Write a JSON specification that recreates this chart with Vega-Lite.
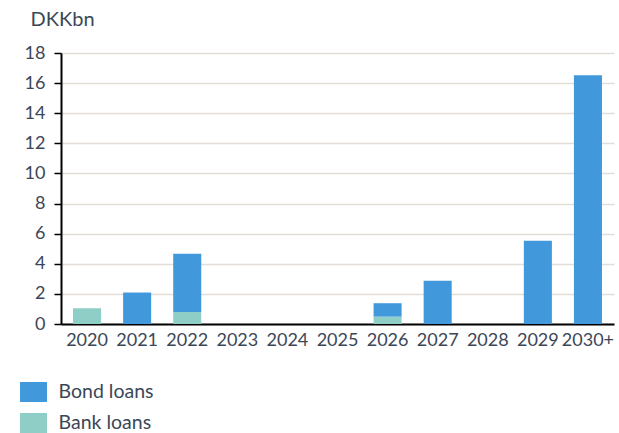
{
  "$schema": "https://vega.github.io/schema/vega-lite/v6.json",
  "width": 553,
  "height": 271,
  "autosize": {"type": "none"},
  "padding": {"left": 61, "top": 53, "right": 5, "bottom": 109},
  "background": "white",
  "config": {
    "view": {"stroke": null},
    "font": "Lato",
    "text": {"font": "Lato"}
  },
  "data": {
    "values": [
      {"year": "2020", "type": "Bank loans", "value": 1.04},
      {"year": "2021", "type": "Bond loans", "value": 2.09},
      {"year": "2022", "type": "Bank loans", "value": 0.8},
      {"year": "2022", "type": "Bond loans", "value": 3.87},
      {"year": "2023", "type": "Bond loans", "value": 0},
      {"year": "2024", "type": "Bond loans", "value": 0},
      {"year": "2025", "type": "Bond loans", "value": 0},
      {"year": "2026", "type": "Bank loans", "value": 0.49},
      {"year": "2026", "type": "Bond loans", "value": 0.89},
      {"year": "2027", "type": "Bond loans", "value": 2.87},
      {"year": "2028", "type": "Bond loans", "value": 0},
      {"year": "2029", "type": "Bond loans", "value": 5.53},
      {"year": "2030+", "type": "Bond loans", "value": 16.53}
    ]
  },
  "mark": {"type": "bar"},
  "encoding": {
    "x": {
      "field": "year",
      "type": "nominal",
      "sort": null,
      "scale": {"paddingInner": 0.44, "paddingOuter": 0.24},
      "axis": {
        "title": null,
        "labelAngle": 0,
        "labelFontSize": 18,
        "labelColor": "#3B4757",
        "labelOverlap": false,
        "labelPadding": 7,
        "ticks": false,
        "domainColor": "#000000",
        "domainWidth": 2,
        "grid": false
      }
    },
    "y": {
      "field": "value",
      "type": "quantitative",
      "stack": "zero",
      "scale": {"domain": [0, 18], "nice": false},
      "axis": {
        "values": [0, 2, 4, 6, 8, 10, 12, 14, 16, 18],
        "title": "DKKbn",
        "titleAngle": 0,
        "titleAlign": "left",
        "titleBaseline": "alphabetic",
        "titleX": -31,
        "titleY": -28,
        "titleFontSize": 20,
        "titleFontWeight": "normal",
        "titleColor": "#3B4757",
        "labelFontSize": 18,
        "labelColor": "#3B4757",
        "labelPadding": 9,
        "tickColor": "#000000",
        "tickSize": 7,
        "tickWidth": 1.5,
        "domainColor": "#000000",
        "domainWidth": 2,
        "gridColor": "#E2DDD7",
        "gridWidth": 1.5
      }
    },
    "color": {
      "field": "type",
      "type": "nominal",
      "scale": {"domain": ["Bond loans", "Bank loans"], "range": ["#4199DB", "#8FCEC6"]},
      "legend": {
        "title": null,
        "orient": "none",
        "legendX": -37.5,
        "legendY": 329,
        "direction": "vertical",
        "symbolType": "M-1.35,-1H1.35V1H-1.35Z",
        "symbolSize": 400,
        "symbolStrokeWidth": 0,
        "labelFontSize": 19.5,
        "labelColor": "#3B4757",
        "labelOffset": 15,
        "rowPadding": 11
      }
    },
    "order": {"field": "type", "sort": "ascending"}
  }
}
